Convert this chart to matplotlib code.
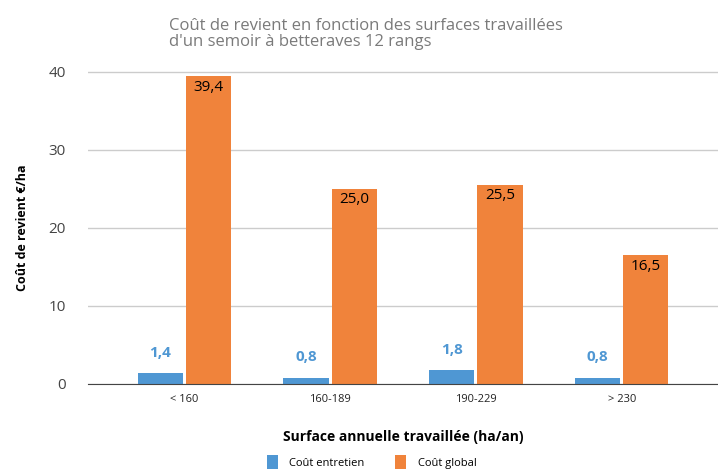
import numpy as np
import matplotlib
matplotlib.use('Agg')
from matplotlib import pyplot as plt

categories = ['< 160', '160-189', '190-229', '> 230']
cout_entretien = [1.4, 0.8, 1.8, 0.8]
cout_global = [39.4, 25.0, 25.5, 16.5]
series_names = ['Coût entretien', 'Coût global']

blue = '#4f97d3'
orange = '#f0833b'

plt.rcParams['font.family'] = ['Open Sans', 'DejaVu Sans']

fig = plt.figure(figsize=(7.18, 4.70), dpi=100)
ax = fig.add_axes([0.1226, 0.183, 0.8774, 0.666])

x = np.arange(len(categories))
w = 0.31
b1 = ax.bar(x - 0.165, cout_entretien, w, color=blue, label=series_names[0], zorder=3)
b2 = ax.bar(x + 0.165, cout_global, w, color=orange, label=series_names[1], zorder=3)

# labels
for rect, v in zip(b1, cout_entretien):
    ax.text(rect.get_x() + rect.get_width() / 2, v + 2.6, f'{v:.1f}'.replace('.', ','),
            ha='center', va='center', color=blue, fontsize=11, fontweight='bold')
for rect, v in zip(b2, cout_global):
    ax.text(rect.get_x() + rect.get_width() / 2, v - 1.4, f'{v:.1f}'.replace('.', ','),
            ha='center', va='center', color='black', fontsize=11)

ax.set_xlim(-0.66, 3.66)
ax.set_ylim(0, 40.1)
ax.set_yticks([0, 10, 20, 30, 40])
ax.set_xticks(x)
ax.set_xticklabels(categories, fontsize=8, color='#222222')
ax.tick_params(axis='y', labelsize=11, colors='#444444', length=0, pad=16)
ax.tick_params(axis='x', length=0, pad=7)
ax.yaxis.grid(True, color='#cccccc', linewidth=1, zorder=0)
for s in ['top', 'right', 'left']:
    ax.spines[s].set_visible(False)
ax.spines['bottom'].set_color('#444444')
ax.spines['bottom'].set_zorder(4)

ax.set_ylabel('Coût de revient €/ha', fontsize=9, fontweight='bold', labelpad=14)
ax.set_xlabel('Surface annuelle travaillée (ha/an)', fontsize=10, fontweight='bold', labelpad=18)

fig.text(0.236, 0.962, 'Coût de revient en fonction des surfaces travaillées\nd\'un semoir à betteraves 12 rangs',
         ha='left', va='top', fontsize=12, color='#7a7a7a', linespacing=1.05)

ax.legend(loc='center', bbox_to_anchor=(0.45, -0.25), ncol=2, frameon=False,
          fontsize=8, handlelength=1.0, handleheight=1.5, handletextpad=1.0, columnspacing=2.8)

fig.savefig('out.png', dpi=100)
